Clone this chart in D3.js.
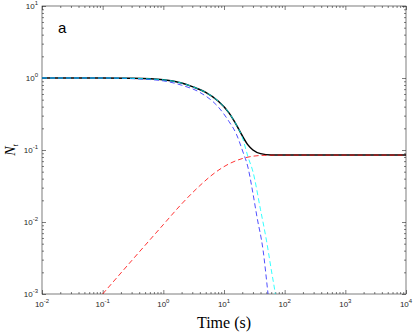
<!DOCTYPE html>
<html>
<head>
<meta charset="utf-8">
<script src="https://cdn.jsdelivr.net/npm/d3@7"></script>
<style>
  body { margin: 0; background: #fff; }
  svg { display: block; }
  .tick-label { font-family: "Liberation Sans", Arial, sans-serif; font-size: 8px; fill: #262626; }
</style>
</head>
<body>
<div id="chart"></div>
<script>
// values (time in s, N on log scale)
let xTicks = [1e-2, 1e-1, 1e0, 1e1, 1e2, 1e3, 1e4];
let xExps = ["-2", "-1", "0", "1", "2", "3", "4"];
let yTicks = [1e-3, 1e-2, 1e-1, 1e0, 1e1];
let yExps = ["-3", "-2", "-1", "0", "1"];

let blackT = [0.01, 0.1, 0.3, 1, 2, 3, 5, 8, 12, 16, 20, 25, 30, 40, 60, 100, 1000, 10000];
let blackN = [1.0, 1.0, 0.989, 0.944, 0.851, 0.759, 0.631, 0.479, 0.331, 0.224, 0.158, 0.117, 0.1, 0.089, 0.085, 0.085, 0.085, 0.085];

let cyanT = [0.01, 0.1, 0.3, 1, 2, 3, 5, 8, 12, 16, 20, 25, 30, 40, 50, 60, 70, 80];
let cyanN = [1.0, 1.0, 0.989, 0.944, 0.851, 0.759, 0.631, 0.479, 0.331, 0.224, 0.151, 0.079, 0.05, 0.0148, 0.0056, 0.0022, 0.001, 0.0004];

let blueT = [0.01, 0.1, 0.3, 1, 2, 4, 8, 12, 16, 20, 25, 30, 35, 44, 53, 60];
let blueN = [1.0, 1.0, 0.98, 0.912, 0.794, 0.631, 0.398, 0.251, 0.166, 0.1, 0.056, 0.025, 0.0117, 0.0041, 0.00103, 0.0004];

let redT = [0.1, 0.3, 1, 2, 4, 7, 12, 20, 30, 50, 100, 1000, 10000];
let redN = [0.001, 0.0029, 0.0092, 0.0178, 0.032, 0.048, 0.064, 0.076, 0.082, 0.0845, 0.085, 0.085, 0.085];

let margin = {top: 6, right: 9, bottom: 39, left: 42},
    width = 415 - margin.left - margin.right,
    height = 333 - margin.top - margin.bottom;

let svg = d3.select("#chart")
  .append("svg")
    .attr("width", 415)
    .attr("height", 333)
  .append("g")
    .attr("transform", `translate(${margin.left},${margin.top})`);

let x = d3.scaleLog().domain([1e-2, 1e4]).range([0, width]);
let y = d3.scaleLog().domain([1e-3, 1e1]).range([height, 0]);

// minor ticks 2..9 per decade
let minorOf = (majors) => {
  let out = [];
  majors.slice(0, -1).forEach(m => { for (let k = 2; k <= 9; k++) out.push(m * k); });
  return out;
};
let xMinor = minorOf(xTicks), yMinor = minorOf(yTicks);

let styleAxis = g => {
  g.select(".domain").remove();
  g.selectAll("line").attr("stroke", "#262626").attr("stroke-width", 0.6);
};

svg.append("g").attr("transform", `translate(0,${height})`)
  .call(d3.axisBottom(x).tickValues(xTicks).tickSize(-4).tickFormat("")).call(styleAxis);
svg.append("g").attr("transform", `translate(0,${height})`)
  .call(d3.axisBottom(x).tickValues(xMinor).tickSize(-2).tickFormat("")).call(styleAxis);
svg.append("g")
  .call(d3.axisTop(x).tickValues(xTicks).tickSize(-4).tickFormat("")).call(styleAxis);
svg.append("g")
  .call(d3.axisTop(x).tickValues(xMinor).tickSize(-2).tickFormat("")).call(styleAxis);
svg.append("g")
  .call(d3.axisLeft(y).tickValues(yTicks).tickSize(-4).tickFormat("")).call(styleAxis);
svg.append("g")
  .call(d3.axisLeft(y).tickValues(yMinor).tickSize(-2).tickFormat("")).call(styleAxis);
svg.append("g").attr("transform", `translate(${width},0)`)
  .call(d3.axisRight(y).tickValues(yTicks).tickSize(-4).tickFormat("")).call(styleAxis);
svg.append("g").attr("transform", `translate(${width},0)`)
  .call(d3.axisRight(y).tickValues(yMinor).tickSize(-2).tickFormat("")).call(styleAxis);

// frame
svg.append("rect")
  .attr("width", width).attr("height", height)
  .attr("fill", "none").attr("stroke", "#262626").attr("stroke-width", 0.6);

// tick labels with superscripts
let xl = svg.append("g").selectAll("text").data(xTicks).enter().append("text")
  .attr("class", "tick-label")
  .attr("x", d => x(d))
  .attr("y", height + 13)
  .attr("text-anchor", "middle");
xl.append("tspan").text("10");
xl.append("tspan").attr("dy", -4).attr("font-size", "6px").text((d, i) => xExps[i]);

let yl = svg.append("g").selectAll("text").data(yTicks).enter().append("text")
  .attr("class", "tick-label")
  .attr("x", -4)
  .attr("y", d => y(d) + 3)
  .attr("text-anchor", "end");
yl.append("tspan").text("10");
yl.append("tspan").attr("dy", -4).attr("font-size", "6px").text((d, i) => yExps[i]);

// clip
svg.append("clipPath").attr("id", "clip")
  .append("rect").attr("width", width).attr("height", height);

let line = d3.line()
  .x(d => x(d[0]))
  .y(d => y(d[1]))
  .curve(d3.curveMonotoneX);

let zip = (a, b) => a.map((t, i) => [t, b[i]]);

let plot = svg.append("g").attr("clip-path", "url(#clip)");

plot.append("path").datum(zip(blackT, blackN))
  .attr("fill", "none").attr("stroke", "#000").attr("stroke-width", 1.5).attr("d", line);

[[blueT, blueN, "#2222ff"], [cyanT, cyanN, "#00ffff"], [redT, redN, "#ff0000"]].forEach(s => {
  plot.append("path").datum(zip(s[0], s[1]))
    .attr("fill", "none")
    .attr("stroke", s[2])
    .attr("stroke-width", 0.8)
    .attr("stroke-dasharray", "5,3")
    .attr("d", line);
});

// panel letter
svg.append("text")
  .attr("x", 16).attr("y", 27)
  .attr("font-family", "Liberation Sans, Arial, sans-serif")
  .attr("font-size", "15px")
  .attr("fill", "#000")
  .text("a");

// axis titles
svg.append("text")
  .attr("x", width / 2).attr("y", height + 34)
  .attr("text-anchor", "middle")
  .attr("font-family", "Liberation Serif, Times New Roman, serif")
  .attr("font-size", "16px")
  .attr("fill", "#000")
  .text("Time (s)");

let yt = svg.append("text")
  .attr("transform", `translate(-27,${height / 2}) rotate(-90)`)
  .attr("text-anchor", "middle")
  .attr("font-family", "Liberation Serif, Times New Roman, serif")
  .attr("font-style", "italic")
  .attr("font-size", "14px")
  .attr("fill", "#000");
yt.append("tspan").text("N");
yt.append("tspan").attr("dy", 3).attr("font-size", "8px").text("t");
</script>
</body>
</html>
